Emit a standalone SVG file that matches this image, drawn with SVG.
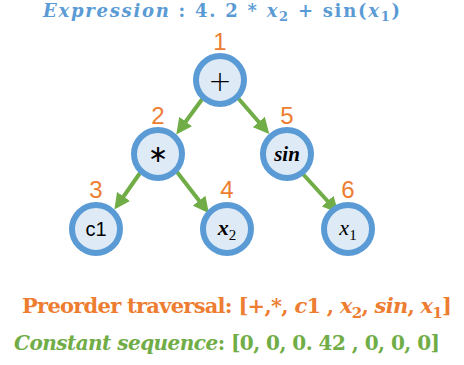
<svg xmlns="http://www.w3.org/2000/svg" width="464" height="365" viewBox="0 0 464 365">
<style>
.node circle{fill:#DEEBF7;stroke:#5B9BD5;stroke-width:6}
.num{font-family:"Liberation Sans",Arial,sans-serif;font-size:24px;fill:#ED7D31;text-anchor:middle}
.lbl{font-family:"Liberation Serif",serif;font-size:22px;fill:#000;text-anchor:middle}
.edge{stroke:#70AD47;stroke-width:4;fill:none;marker-end:url(#ah)}
.math{font-family:"DejaVu Serif",serif;font-weight:bold}
</style>
<defs>
<marker id="ah" markerWidth="4" markerHeight="4" refX="2" refY="2" orient="auto" markerUnits="strokeWidth">
<path d="M0,0 L4,2 L0,4 z" fill="#70AD47"/>
</marker>
</defs>
<text x="43" y="17" class="math" font-size="18" fill="#5B9BD5" textLength="357" lengthAdjust="spacing"><tspan font-style="italic">Expression</tspan> : 4. 2  * <tspan font-style="italic">x</tspan><tspan font-size="13" dy="4">2</tspan><tspan dy="-4"> + sin(</tspan><tspan font-style="italic">x</tspan><tspan font-size="13" dy="4">1</tspan><tspan dy="-4">)</tspan></text>
<g id="connectors">
<line class="edge" x1="203" y1="98" x2="181" y2="128"/>
<line class="edge" x1="238" y1="98" x2="264" y2="128"/>
<line class="edge" x1="140" y1="173" x2="119" y2="203"/>
<line class="edge" x1="177" y1="172" x2="204" y2="207"/>
<line class="edge" x1="302" y1="173" x2="333" y2="207"/>
</g>
<g id="n1" class="node"><circle cx="220" cy="80" r="24"/><text class="lbl" x="220" y="91" style="font-family:'DejaVu Sans',sans-serif;font-size:28px;font-weight:300">+</text><text class="num" x="220" y="50">1</text></g>
<g id="n2" class="node"><circle cx="158" cy="154" r="24"/><text class="lbl" x="158" y="162" style="font-family:'DejaVu Sans',sans-serif;font-size:24px">∗</text><text class="num" x="158" y="124">2</text></g>
<g id="n5" class="node"><circle cx="287" cy="154" r="24"/><text class="lbl" x="287" y="161" style="font-weight:bold;font-style:italic;font-size:21px">sin</text><text class="num" x="287" y="124">5</text></g>
<g id="n3" class="node"><circle cx="96" cy="229" r="24"/><text x="96" y="236" text-anchor="middle" font-family="'Liberation Sans',Arial,sans-serif" font-size="20">c1</text><text class="num" x="96" y="198">3</text></g>
<g id="n4" class="node"><circle cx="227" cy="229" r="24"/><text class="lbl" x="227" y="235"><tspan font-weight="bold" font-style="italic">x</tspan><tspan font-size="15" dy="5">2</tspan></text><text class="num" x="227" y="198">4</text></g>
<g id="n6" class="node"><circle cx="348" cy="229" r="24"/><text class="lbl" x="348" y="235"><tspan font-style="italic">x</tspan><tspan font-size="15" dy="5">1</tspan></text><text class="num" x="348" y="198">6</text></g>
<text x="22" y="313" class="math" font-size="21" fill="#ED7D31" textLength="430" lengthAdjust="spacing">Preorder traversal: [+,*, <tspan font-style="italic">c</tspan>1 , <tspan font-style="italic">x</tspan><tspan font-size="15" dy="5">2</tspan><tspan dy="-5">, </tspan><tspan font-style="italic">sin</tspan>, <tspan font-style="italic">x</tspan><tspan font-size="15" dy="5">1</tspan><tspan dy="-5">]</tspan></text>
<text x="14" y="350" class="math" font-size="20" fill="#70AD47" textLength="426" lengthAdjust="spacing"><tspan font-style="italic">Constant sequence</tspan>: [0, 0, 0. 42 , 0, 0, 0]</text>
</svg>
